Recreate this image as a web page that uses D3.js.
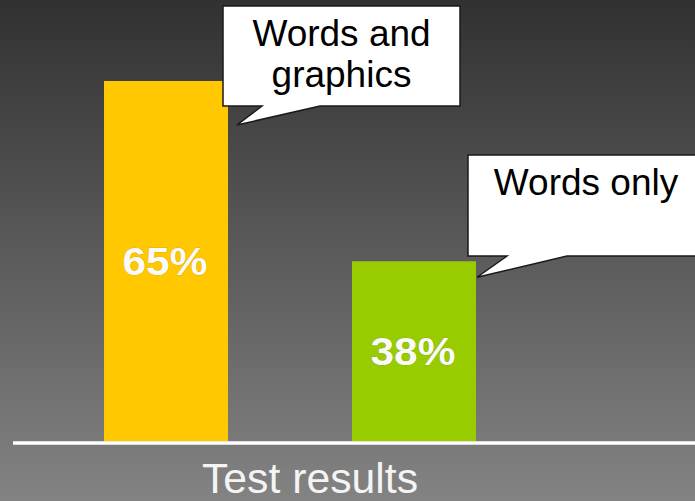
<!doctype html>
<html>
<head>
<meta charset="utf-8">
<title>Test results</title>
<style>
* {padding:0;margin:0}
body {background:#333;}
</style>
</head>
<body>
<div id="chart"></div>
<script src="https://d3js.org/d3.v7.min.js"></script>
<script>

	// data
	const categories = ["Words and graphics", "Words only"];
	const values = [65, 38];
	const valueLabels = ["65%", "38%"];
	const calloutLines = [["Words and", "graphics"], ["Words only"]];
	const barColors = ["#ffc800", "#99cc00"];
	const axisTitle = "Test results";

	const width = 695, height = 501;

	const svg = d3.select("#chart").append("svg")
		.attr("width", width)
		.attr("height", height);

	// background gradient
	const grad = svg.append("defs").append("linearGradient")
		.attr("id", "bg").attr("x1", 0).attr("y1", 0).attr("x2", 0).attr("y2", 1);
	grad.append("stop").attr("offset", "0%").attr("stop-color", "#313131");
	grad.append("stop").attr("offset", "100%").attr("stop-color", "#838383");
	svg.append("rect").attr("width", width).attr("height", height).attr("fill", "url(#bg)");

	const x = d3.scaleBand().domain(categories).range([42, 538]).paddingInner(0.5).paddingOuter(0.25);
	// the chart's value axis does not start at zero
	const y = d3.scaleLinear().domain([11, 65]).range([441.5, 81]);

	svg.selectAll("rect.bar").data(categories).enter()
		.append("rect")
		.attr("class", "bar")
		.attr("x", d => x(d))
		.attr("width", x.bandwidth())
		.attr("y", (d, i) => y(values[i]))
		.attr("height", (d, i) => y.range()[0] - y(values[i]))
		.attr("fill", (d, i) => barColors[i]);

	// value labels, centred in the bar
	svg.selectAll("text.val").data(categories).enter()
		.append("text")
		.attr("class", "val")
		.attr("x", d => x(d) + x.bandwidth() / 2 - 1)
		.attr("y", (d, i) => (y(values[i]) + y.range()[0]) / 2 + 13.5)
		.attr("text-anchor", "middle")
		.attr("font-family", "Liberation Sans, Arial, sans-serif")
		.attr("font-weight", "bold")
		.attr("font-size", 38)
		.attr("textLength", 85)
		.attr("lengthAdjust", "spacingAndGlyphs")
		.attr("fill", "#fafafa")
		.style("paint-order", "stroke")
		.attr("stroke", "rgba(0,0,0,0.15)")
		.attr("stroke-width", 1)
		.text((d, i) => valueLabels[i]);

	// baseline
	svg.append("line")
		.attr("x1", 13).attr("x2", width)
		.attr("y1", 443).attr("y2", 443)
		.attr("stroke", "#fff")
		.attr("stroke-width", 3.5);

	svg.append("text")
		.attr("x", 310)
		.attr("y", 493)
		.attr("text-anchor", "middle")
		.attr("font-family", "Liberation Sans, Arial, sans-serif")
		.attr("font-size", 43)
		.attr("textLength", 216)
		.attr("lengthAdjust", "spacingAndGlyphs")
		.attr("fill", "#f4f4f4")
		.text(axisTitle);

	// callouts: box + tail pointing at the bar
	const callouts = [
		{box: [223, 6, 460, 106], tail: [262, 320], tip: [9, 44]},
		{box: [468, 155, 704, 256], tail: [507, 567], tip: [1, 16]}
	];

	callouts.forEach(function(c, i) {
		const cat = categories[i];
		const tipX = x(cat) + x.bandwidth() + c.tip[0];
		const tipY = y(values[i]) + c.tip[1];
		const [x0, y0, x1, y1] = c.box;
		const p = d3.path();
		p.moveTo(x0, y0);
		p.lineTo(x1, y0);
		p.lineTo(x1, y1);
		p.lineTo(c.tail[1], y1);
		p.lineTo(tipX, tipY);
		p.lineTo(c.tail[0], y1);
		p.lineTo(x0, y1);
		p.closePath();
		svg.append("path")
			.attr("d", p.toString())
			.attr("fill", "#fff")
			.attr("stroke", "#1a1a1a")
			.attr("stroke-width", 1.5)
			.attr("stroke-linejoin", "miter");

		const cx = (x0 + x1) / 2;
		const t = svg.append("text")
			.attr("text-anchor", "middle")
			.attr("font-family", "Liberation Sans, Arial, sans-serif")
			.attr("font-size", 37)
			.attr("fill", "#000");
		calloutLines[i].forEach(function(line, j) {
			t.append("tspan")
				.attr("x", cx)
				.attr("y", y0 + 40 + j * 41)
				.text(line);
		});
	});

</script>
</body>
</html>
